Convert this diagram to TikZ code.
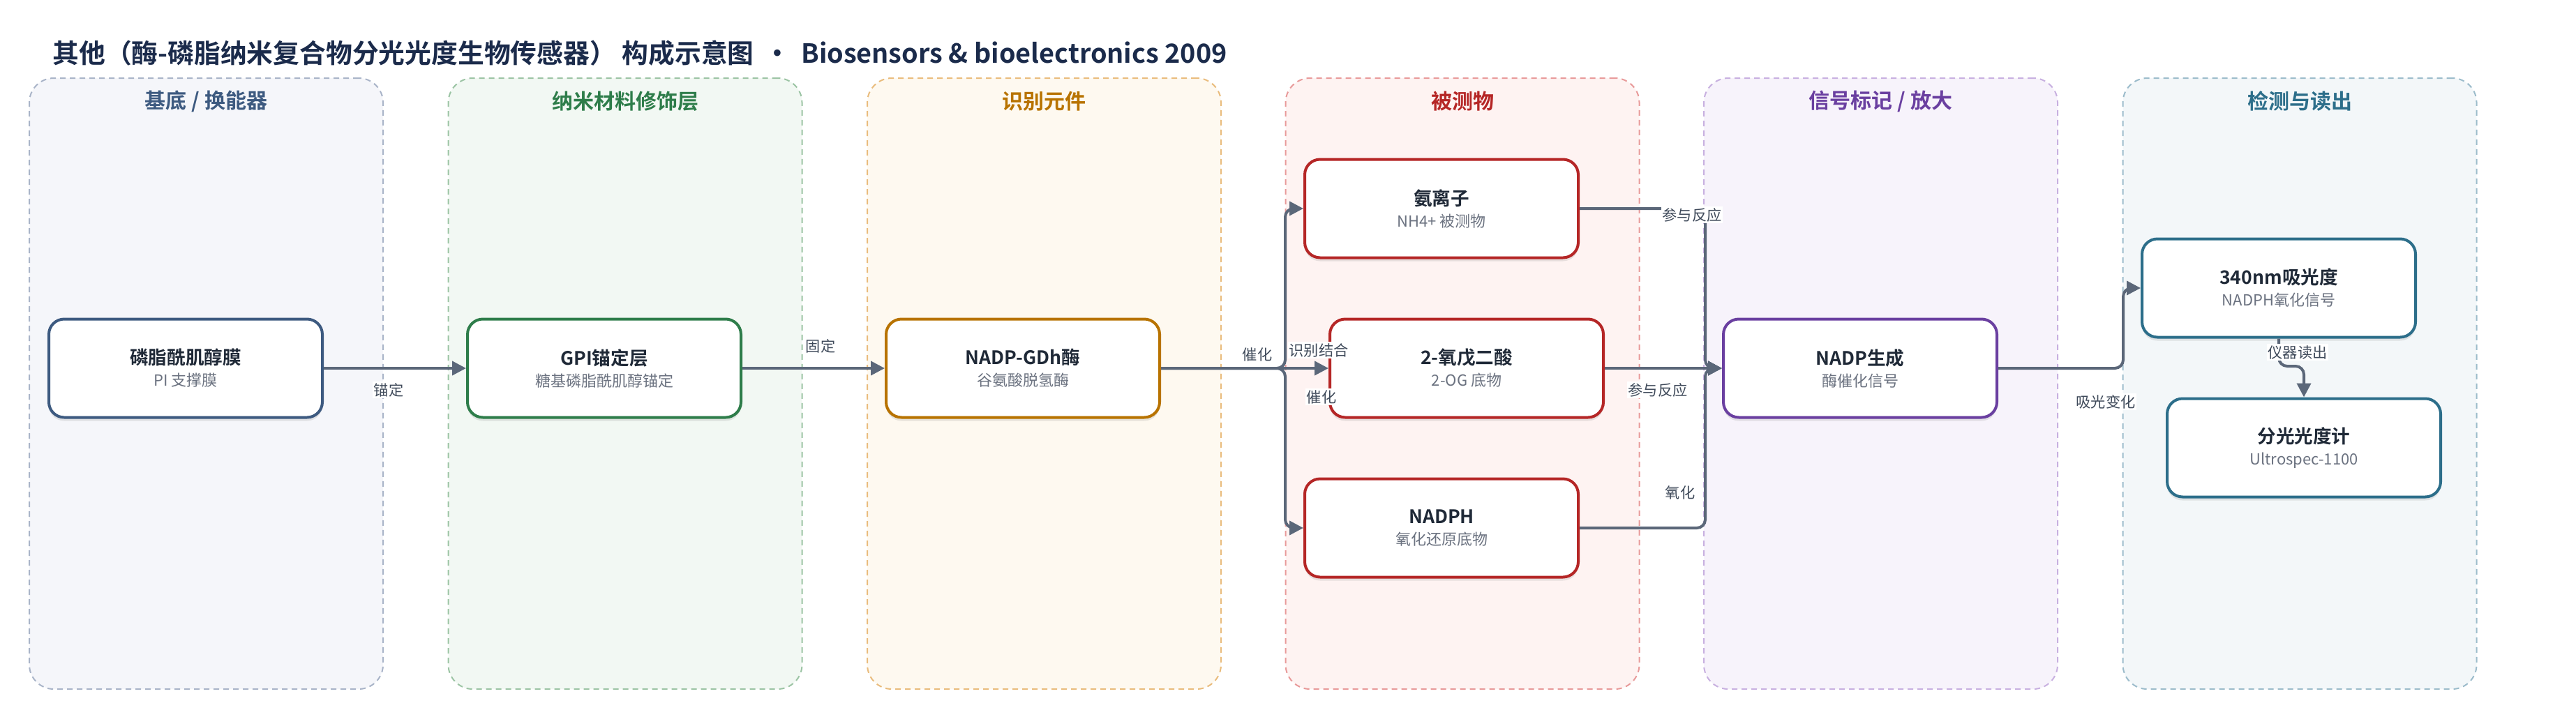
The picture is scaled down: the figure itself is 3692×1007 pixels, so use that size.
\documentclass[tikz,border=0pt]{standalone}
\usepackage{fontspec}
\setmainfont{Noto Sans CJK SC}[BoldFont={Noto Sans CJK SC Bold}]
\usetikzlibrary{arrows.meta,shadows}
\definecolor{titlec}{HTML}{1B2B4B}
\definecolor{textc}{HTML}{1F2937}
\definecolor{subc}{HTML}{6B7280}
\definecolor{edgec}{HTML}{5B6779}
\definecolor{lblc}{HTML}{3F4A5A}
% panel colours: fill, border, title/node
\definecolor{pAf}{HTML}{F5F6FA}\definecolor{pAb}{HTML}{A9B4C8}\definecolor{pAt}{HTML}{3D5A80}
\definecolor{pBf}{HTML}{F2F8F3}\definecolor{pBb}{HTML}{9CC4A4}\definecolor{pBt}{HTML}{2E7D4A}
\definecolor{pCf}{HTML}{FEF9F0}\definecolor{pCb}{HTML}{E9BC7D}\definecolor{pCt}{HTML}{B87300}
\definecolor{pDf}{HTML}{FEF3F2}\definecolor{pDb}{HTML}{E89A9A}\definecolor{pDt}{HTML}{B52626}
\definecolor{pEf}{HTML}{F7F3FB}\definecolor{pEb}{HTML}{C8B0E0}\definecolor{pEt}{HTML}{6A3FA0}
\definecolor{pFf}{HTML}{F3F7F9}\definecolor{pFb}{HTML}{9CBCCB}\definecolor{pFt}{HTML}{2C6E8A}
\tikzset{
  panelbox/.style 2 args={draw=#2, fill=#1, line width=1pt, dash pattern=on 4pt off 3pt,
    rounded corners=17.5pt, minimum width=253.5pt, minimum height=438pt, inner sep=0pt},
  paneltitle/.style={text=#1, font=\fontsize{15pt}{17pt}\selectfont\bfseries},
  box/.style={draw=#1, line width=2pt, fill=white, rounded corners=11pt,
    minimum width=196pt, minimum height=70.5pt, align=center, inner sep=2pt,
    drop shadow={opacity=0.18, shadow xshift=0pt, shadow yshift=-2.5pt}},
  edge/.style={draw=edgec, line width=2pt, rounded corners=6pt,
    -{Triangle[length=10pt,width=10pt]}},
  elabel/.style={fill=white, inner sep=1pt, text=lblc, font=\fontsize{10.6pt}{12pt}\selectfont},
}
\newcommand{\boxtext}[2]{{\fontsize{13.3pt}{16pt}\selectfont\bfseries\color{textc}#1}\\[3.5pt]{\fontsize{11pt}{13pt}\selectfont\color{subc}#2}}
\begin{document}
\begin{tikzpicture}[x=0.5pt,y=-0.5pt]
\useasboundingbox (0,0) rectangle (3692,1007);
% title
\node[anchor=west, text=titlec, font=\fontsize{18.9pt}{22pt}\selectfont\bfseries, inner sep=0pt] (title) at (75,76)
  {其他（酶-磷脂纳米复合物分光光度生物传感器） 构成示意图 \,·\, Biosensors \& bioelectronics 2009};
% panels
\node[panelbox={pAf}{pAb}] (pA) at (295.5,550) {};
\node[panelbox={pBf}{pBb}] (pB) at (896,550) {};
\node[panelbox={pCf}{pCb}] (pC) at (1496.5,550) {};
\node[panelbox={pDf}{pDb}] (pD) at (2096,550) {};
\node[panelbox={pEf}{pEb}] (pE) at (2695.5,550) {};
\node[panelbox={pFf}{pFb}] (pF) at (3296,550) {};
\node[paneltitle=pAt] (tA) at (295.5,145) {基底 / 换能器};
\node[paneltitle=pBt] (tB) at (896,145) {纳米材料修饰层};
\node[paneltitle=pCt] (tC) at (1496.5,145) {识别元件};
\node[paneltitle=pDt] (tD) at (2096,145) {被测物};
\node[paneltitle=pEt] (tE) at (2695.5,145) {信号标记 / 放大};
\node[paneltitle=pFt] (tF) at (3296,145) {检测与读出};
% nodes
\node[box=pAt] (n1) at (266,528) {\boxtext{磷脂酰肌醇膜}{PI 支撑膜}};
\node[box=pBt] (n2) at (866,528) {\boxtext{GPI锚定层}{糖基磷脂酰肌醇锚定}};
\node[box=pCt] (n3) at (1466,528) {\boxtext{NADP-GDh酶}{谷氨酸脱氢酶}};
\node[box=pDt] (n4a) at (2066,299) {\boxtext{氨离子}{NH4+ 被测物}};
\node[box=pDt] (n4b) at (2102,528) {\boxtext{2-氧戊二酸}{2-OG 底物}};
\node[box=pDt] (n4c) at (2066,757) {\boxtext{NADPH}{氧化还原底物}};
\node[box=pEt] (n5) at (2666,528) {\boxtext{NADP生成}{酶催化信号}};
\node[box=pFt] (n6a) at (3266,413) {\boxtext{340nm吸光度}{NADPH氧化信号}};
\node[box=pFt] (n6b) at (3302,642) {\boxtext{分光光度计}{Ultrospec-1100}};
% edges
\draw[edge] (n1.east) -- (n2.west);
\draw[edge] (n2.east) -- (n3.west);
\draw[edge] (n3.east) -- (1842,528) -- (1842,299) -- (n4a.west);
\draw[edge] (n3.east) -- (n4b.west);
\draw[edge] (n3.east) -- (1842,528) -- (1842,757) -- (n4c.west);
\draw[edge] (n4a.east) -- (2444,299) -- (2444,528) -- (n5.west);
\draw[edge] (n4b.east) -- (n5.west);
\draw[edge] (n4c.east) -- (2444,757) -- (2444,528) -- (n5.west);
\draw[edge] (n5.east) -- (3043,528) -- (3043,413) -- (n6a.west);
\draw[edge] (n6a.south) -- (3266,525) -- (3302,525) -- (n6b.north);
% edge labels
\node[elabel] (l1) at (557,559) {锚定};
\node[elabel] (l2) at (1176,496) {固定};
\node[elabel] (l3) at (1802,508) {催化};
\node[elabel] (l4) at (1890,502) {识别结合};
\node[elabel] (l5) at (1894,569) {催化};
\node[elabel] (l6) at (2425,308) {参与反应};
\node[elabel] (l7) at (2376,559) {参与反应};
\node[elabel] (l8) at (2408,706) {氧化};
\node[elabel] (l9) at (3018,576) {吸光变化};
\node[elabel] (l10) at (3293,505) {仪器读出};
\end{tikzpicture}
\end{document}
